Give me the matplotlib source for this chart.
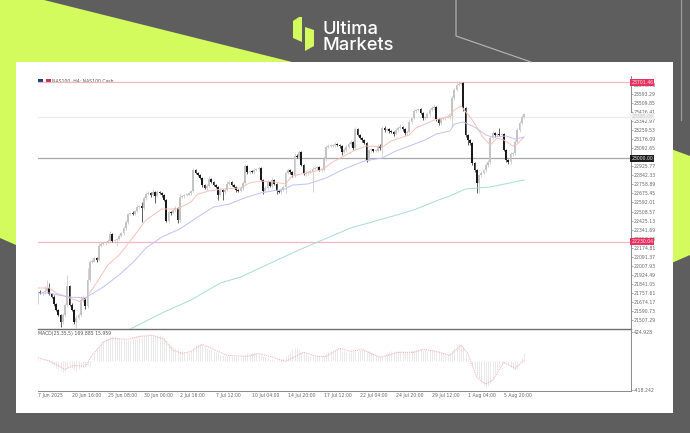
#!/usr/bin/env python3
"""US100 H4 candlestick chart with moving averages and MACD, on the branded card."""

import matplotlib

matplotlib.use("Agg")
import matplotlib.pyplot as plt
import numpy as np
from matplotlib.patches import Polygon, Rectangle

W, H = 690, 433

# Bar closes
closes = [
    21766, 21757, 21766, 21775, 21803, 21747, 21720, 21655, 21600, 21554,
    21489, 21554, 21646, 21821, 21646, 21600, 21489, 21526, 21554, 21692,
    21710, 21637, 21877, 22043, 22050, 22080, 22061, 22190, 22209, 22218,
    22227, 22236, 22301, 22237, 22246, 22255, 22283, 22310, 22357, 22412,
    22486, 22495, 22490, 22513, 22550, 22560, 22541, 22633, 22670, 22680,
    22661, 22689, 22652, 22689, 22680, 22661, 22615, 22421, 22504, 22495,
    22523, 22541, 22430, 22643, 22652, 22660, 22668, 22680, 22698, 22892,
    22864, 22846, 22818, 22753, 22726, 22744, 22809, 22781, 22753, 22735,
    22661, 22707, 22689, 22707, 22763, 22781, 22753, 22735, 22707, 22700,
    22726, 22772, 22929, 22873, 22880, 22873, 22892, 22900, 22910, 22800,
    22698, 22726, 22781, 22744, 22800, 22763, 22698, 22689, 22707, 22735,
    22864, 22892, 22873, 22846, 23021, 23012, 23058, 22938, 22855, 22864,
    22870, 22880, 22901, 22910, 22915, 22892, 22897, 22993, 23104, 23113,
    23118, 23123, 23132, 23123, 23113, 23058, 23077, 23104, 23132, 23150,
    23095, 23270, 23215, 23187, 23169, 23141, 22984, 23077, 23080, 23067,
    23072, 23113, 23095, 23280, 23261, 23266, 23252, 23243, 23224, 23261,
    23280, 23289, 23270, 23233, 23243, 23335, 23372, 23436, 23446, 23450,
    23418, 23372, 23378, 23409, 23446, 23464, 23473, 23363, 23326, 23363,
    23372, 23378, 23381, 23390, 23556, 23630, 23676, 23686, 23690, 23464,
    23215, 23169, 23141, 22956, 22892, 22772, 22846, 22864, 22892, 22938,
    22966, 23187, 23233, 23215, 23224, 23220, 23224, 23077, 22984, 22966,
    23040, 23049, 23150, 23261, 23326, 23381, 23409,
]
# Wick lengths above and below the body
upper_wicks = [
    10, 15, 10, 45, 75, 50, 10, 15, 10, 10,
    10, 15, 20, 100, 10, 15, 10, 25, 15, 40,
    30, 10, 110, 15, 20, 15, 10, 30, 15, 10,
    10, 15, 30, 10, 10, 10, 15, 10, 20, 15,
    10, 10, 15, 10, 25, 10, 40, 15, 15, 15,
    10, 30, 10, 15, 10, 10, 10, 10, 20, 10,
    10, 15, 10, 25, 10, 10, 15, 10, 10, 15,
    10, 10, 10, 10, 10, 15, 30, 10, 10, 10,
    10, 20, 10, 15, 25, 10, 10, 10, 10, 10,
    15, 15, 15, 10, 15, 10, 15, 10, 20, 10,
    10, 15, 20, 10, 25, 10, 10, 10, 15, 15,
    15, 15, 10, 10, 25, 15, 20, 10, 10, 15,
    10, 15, 15, 10, 15, 10, 10, 25, 15, 15,
    10, 10, 15, 10, 10, 10, 15, 15, 15, 15,
    10, 20, 10, 10, 10, 10, 10, 10, 15, 10,
    10, 15, 15, 20, 15, 10, 10, 10, 10, 15,
    15, 30, 10, 10, 15, 25, 10, 15, 10, 15,
    10, 10, 10, 15, 15, 15, 30, 10, 10, 10,
    10, 15, 10, 10, 20, 15, 15, 27, 10, 15,
    10, 10, 10, 10, 10, 10, 10, 15, 10, 15,
    15, 20, 15, 10, 10, 60, 10, 10, 10, 10,
    15, 10, 15, 15, 15, 15, 10,
]
lower_wicks = [
    115, 10, 15, 15, 20, 10, 10, 15, 10, 10,
    45, 15, 20, 15, 10, 10, 15, 55, 10, 15,
    15, 25, 15, 15, 10, 10, 15, 10, 10, 10,
    15, 10, 15, 10, 15, 55, 10, 10, 15, 20,
    15, 10, 10, 15, 10, 15, 130, 20, 15, 10,
    15, 10, 65, 10, 10, 15, 10, 10, 15, 20,
    10, 15, 25, 15, 10, 15, 10, 10, 15, 10,
    10, 10, 10, 15, 10, 15, 10, 10, 10, 10,
    45, 10, 75, 15, 10, 10, 10, 10, 15, 10,
    10, 15, 10, 15, 15, 10, 15, 10, 15, 10,
    25, 10, 15, 10, 15, 10, 30, 10, 15, 10,
    60, 10, 15, 15, 20, 10, 15, 10, 10, 20,
    15, 10, 190, 10, 15, 10, 15, 15, 15, 10,
    10, 15, 15, 10, 15, 25, 10, 15, 10, 15,
    15, 15, 10, 10, 15, 10, 15, 10, 15, 10,
    10, 10, 15, 75, 15, 10, 15, 10, 20, 10,
    15, 10, 15, 15, 15, 10, 15, 10, 15, 10,
    10, 20, 15, 10, 15, 10, 15, 15, 15, 15,
    10, 15, 10, 15, 100, 15, 10, 10, 10, 25,
    15, 45, 20, 15, 15, 92, 92, 15, 10, 15,
    15, 15, 10, 15, 10, 10, 15, 10, 15, 20,
    15, 15, 15, 10, 15, 10, 10,
]

# Moving averages, sampled at the bars where they bend
red_ma_bars = [0, 5, 8, 14, 19, 21, 26, 31, 36, 42, 48, 55, 62, 68, 71, 76, 82, 90, 94, 99, 105, 110, 113, 119,
               126, 131, 136, 141, 146, 153, 157, 165, 168, 176, 182, 185, 188, 193, 198, 201, 204, 207, 211, 213, 216]
red_ma = [21803, 21803, 21757, 21711, 21674, 21701, 21849, 22015, 22107, 22264, 22430, 22532, 22532, 22597, 22670,
          22698, 22717, 22726, 22772, 22790, 22781, 22763, 22837, 22864, 22892, 22966, 23021, 23077, 23113, 23104,
          23160, 23215, 23280, 23353, 23381, 23446, 23483, 23353, 23187, 23123, 23187, 23169, 23113, 23132, 23196]
blue_ma_bars = [0, 5, 9, 14, 21, 29, 36, 42, 48, 55, 63, 71, 78, 85, 93, 99, 104, 110, 113, 120, 128, 136, 145,
                153, 159, 165, 172, 177, 183, 185, 189, 194, 199, 202, 208, 212, 216]
blue_ma = [21757, 21757, 21738, 21720, 21711, 21812, 21923, 22034, 22172, 22273, 22347, 22458, 22550, 22578, 22643,
           22680, 22698, 22717, 22753, 22763, 22818, 22901, 22975, 23003, 23067, 23113, 23169, 23224, 23252, 23316,
           23335, 23289, 23215, 23196, 23206, 23178, 23196]
green_ma_bars = [41, 56, 68, 81, 90, 116, 139, 161, 167, 178, 183, 190, 201, 216]
green_ma = [21424, 21581, 21692, 21849, 21904, 22154, 22357, 22486, 22523, 22615, 22652, 22717, 22735, 22800]

# MACD histogram per bar, and the signal line at its bends
macd_hist = [
    15, 15, 10, 5, 0, -15, -40, -70, -100, -130,
    -150, -160, -140, -100, -80, -100, -130, -140, -120, -100,
    -90, -60, -60, -80, -20, 120, 180, 220, 260, 290,
    320, 340, 360, 365, 360, 350, 330, 325, 320, 310,
    300, 310, 330, 350, 360, 370, 365, 370, 375, 375,
    370, 375, 365, 370, 370, 365, 350, 300, 260, 230,
    210, 195, 170, 150, 150, 135, 130, 130, 150, 190,
    230, 245, 250, 240, 215, 195, 170, 160, 145, 130,
    110, 95, 85, 80, 80, 75, 75, 70, 70, 65,
    65, 80, 95, 110, 115, 120, 120, 115, 105, 85,
    70, 60, 45, 35, 25, 15, 10, 15, 25, 45,
    75, 100, 130, 170, 185, 190, 165, 130, 115, 100,
    90, 80, 70, 75, 80, 70, 70, 80, 110, 130,
    145, 150, 160, 170, 170, 150, 140, 130, 125, 130,
    135, 140, 150, 160, 165, 160, 150, 140, 125, 110,
    95, 80, 75, 70, 90, 115, 130, 140, 150, 150,
    145, 145, 140, 135, 135, 140, 160, 165, 170, 170,
    170, 165, 155, 150, 160, 165, 160, 150, 140, 130,
    115, 105, 100, 115, 150, 190, 230, 250, 250, 200,
    120, 50, -15, -70, -135, -200, -260, -310, -350, -370,
    -355, -320, -260, -190, -130, -80, -50, -30, -20, -40,
    -80, -110, -130, -100, -10, 60, 120,
]
signal_bars = [0, 5, 12, 16, 21, 24, 29, 33, 40, 45, 51, 56, 60, 64, 68, 73, 80, 84, 93, 98, 103, 110, 118, 124,
               128, 134, 139, 144, 152, 160, 167, 171, 177, 183, 188, 191, 195, 199, 202, 207, 212, 216]
signal = [49, 0, -120, -62, -77, 82, 275, 328, 314, 357, 372, 314, 155, 111, 140, 241, 140, 82, 68, 111, 68, -4,
          126, 68, 68, 184, 140, 169, 54, 126, 126, 169, 140, 82, 227, 111, -236, -333, -279, -19, -106, 10]

# Axis labels
price_ticks = [23676.73, 23593.29, 23509.85, 23426.41, 23342.97, 23259.53, 23176.09, 23092.65, 22925.77, 22842.33,
               22758.89, 22675.45, 22592.01, 22508.57, 22425.13, 22341.69, 22258.25, 22174.81, 22091.37, 22007.93,
               21924.49, 21841.05, 21757.61, 21674.17, 21590.73, 21507.29]
date_bars = [0, 15, 31, 47, 63, 79, 95, 111, 127, 143, 159, 175, 191, 207]
date_labels = ["7 Jun 2025", "20 Jun 16:00", "25 Jun 08:00", "30 Jun 00:00", "2 Jul 16:00", "7 Jul 12:00",
               "10 Jul 04:00", "14 Jul 20:00", "17 Jul 12:00", "22 Jul 04:00", "24 Jul 20:00", "29 Jul 12:00",
               "1 Aug 04:00", "5 Aug 20:00"]
macd_ticks = [424.928, -418.242]

# Horizontal levels: price, line colour, tag colour, tag text colour
levels = [
    (23701.46, "#f9b3c2", "#e8315f", "#ffe5ea"),
    (23385.00, "#ececec", "#f0f0f0", "#c8c8c8"),
    (23000.00, "#a8a8a8", "#1c1c1c", "#f0f0f0"),
    (22230.04, "#f9b3c2", "#e8315f", "#ffe5ea"),
]

DARK = "#5e5e5e"
LIME = "#d4fb5e"
TXT = "#666666"
FS = 3.3


def px_axes(left, top, right, bottom):
    return fig.add_axes([left / W, 1 - bottom / H, (right - left) / W, (bottom - top) / H])


fig = plt.figure(figsize=(W / 100, H / 100), dpi=100, facecolor=DARK)

# Card background in pixel coordinates
bg = fig.add_axes([0, 0, 1, 1])
bg.set_xlim(0, W)
bg.set_ylim(H, 0)
bg.axis("off")
bg.add_patch(Polygon([(0, 0), (44, 0), (300, 64), (300, 130), (16, 245), (0, 238)], fc=LIME, ec="none"))
bg.add_patch(Polygon([(660, 145), (690, 156), (690, 255), (660, 268)], fc=LIME, ec="none"))
bg.add_patch(Rectangle((16, 62), 657, 351, fc="white", ec="none", zorder=2))
bg.plot([456, 456, 531], [0, 36, 62], color="#b8b8b8", lw=0.8)
bg.plot([681, 681], [0, 120], color="#a0a0a0", lw=0.8)
bg.add_patch(Polygon([(293, 21), (299, 17), (302, 17), (302, 42), (293, 38)], fc=LIME, ec="none", zorder=3))
bg.add_patch(Polygon([(305, 27), (314, 30), (314, 46), (305, 51)], fc=LIME, ec="none", zorder=3))
bg.text(322, 33.5, "Ultima", color="white", fontsize=13.2, family="Inter", fontweight="medium", zorder=3)
bg.text(323, 50, "Markets", color="white", fontsize=13.2, family="Inter", fontweight="medium", zorder=3)
bg.add_patch(Rectangle((38, 79), 5, 4, fc="#1f3f7a", ec="none", zorder=3))
bg.add_patch(Rectangle((46, 79), 5, 4, fc="#c8324a", ec="none", zorder=3))
bg.text(52, 83, "NAS100, H4: NAS100 Cash", color="#555555", fontsize=FS, zorder=3)

# Price panel
bars = np.arange(len(closes))
closes_arr = np.array(closes, dtype=float)
opens = np.r_[closes_arr[0], closes_arr[:-1]]
highs = np.maximum(opens, closes_arr) + np.array(upper_wicks)
lows = np.minimum(opens, closes_arr) - np.array(lower_wicks)
is_up = closes_arr >= opens

ax = px_axes(38, 76, 630.5, 329)
ax.patch.set_alpha(0)
ax.set_xlim(0, 263.3)
ax.set_ylim(21424.3, 23759.5)

for price, line_color, _, _ in levels:
    ax.axhline(price, color=line_color, lw=0.9, zorder=1)

ax.plot(red_ma_bars, red_ma, color="#fac0bb", lw=0.7, zorder=4)
ax.plot(blue_ma_bars, blue_ma, color="#c0c0f5", lw=0.7, zorder=4)
ax.plot(green_ma_bars, green_ma, color="#a6ddd2", lw=0.7, zorder=4)

candle_colors = np.where(is_up, "#c4c4c4", "#1a1a1a")
ax.vlines(bars, lows, highs, colors=candle_colors, lw=0.5, zorder=3)
ax.bar(bars, np.abs(closes_arr - opens) + 6, bottom=np.minimum(opens, closes_arr) - 3, width=0.75,
       color=candle_colors, lw=0, zorder=3)

ax.yaxis.tick_right()
ax.set_yticks(price_ticks)
ax.set_yticklabels([f"{p:.2f}" for p in price_ticks])
ax.set_xticks([])
ax.tick_params(axis="y", length=1.5, width=0.4, color=TXT, labelsize=FS, labelcolor=TXT, pad=0.8)
for side in ("top", "left"):
    ax.spines[side].set_visible(False)
ax.spines["right"].set_color("#8a8a8a")
ax.spines["right"].set_linewidth(0.7)
ax.spines["bottom"].set_color("#6e6e6e")
ax.spines["bottom"].set_linewidth(1.0)

for price, _, tag_color, tag_text in levels:
    ax.text(1.0015, price, f"{price:.2f}", transform=ax.get_yaxis_transform(), fontsize=FS, color=tag_text,
            va="center", ha="left", zorder=6, clip_on=False,
            bbox=dict(boxstyle="square,pad=0.2", fc=tag_color, ec="none"))

# MACD panel
sub = px_axes(38, 329, 630.5, 391)
sub.patch.set_alpha(0)
sub.set_xlim(0, 263.3)
sub.set_ylim(-432.7, 464)
sub.vlines(bars, 0, macd_hist, colors="#e0e0e0", lw=0.5, zorder=2)
sub.plot(signal_bars, signal, color="#f9a9a9", lw=0.7, ls=(0, (1, 1)), zorder=3)

sub.yaxis.tick_right()
sub.set_yticks(macd_ticks)
sub.set_yticklabels([f"{v:.3f}" for v in macd_ticks])
sub.set_xticks(date_bars)
sub.set_xticklabels(date_labels, ha="left")
sub.tick_params(axis="y", length=1.5, width=0.4, color=TXT, labelsize=FS, labelcolor=TXT, pad=0.8)
sub.tick_params(axis="x", length=0, labelsize=FS, labelcolor=TXT, pad=1.5)
for side in ("top", "left"):
    sub.spines[side].set_visible(False)
sub.spines["right"].set_color("#8a8a8a")
sub.spines["right"].set_linewidth(0.7)
sub.spines["bottom"].set_color("#8a8a8a")
sub.spines["bottom"].set_linewidth(0.7)
sub.text(0, 0.975, "MACD(25,35,5) 169.885 15.959", transform=sub.transAxes, fontsize=FS, color="#555555",
         va="top", ha="left")

fig.savefig("out.png", dpi=100, facecolor=DARK)
plt.close(fig)
